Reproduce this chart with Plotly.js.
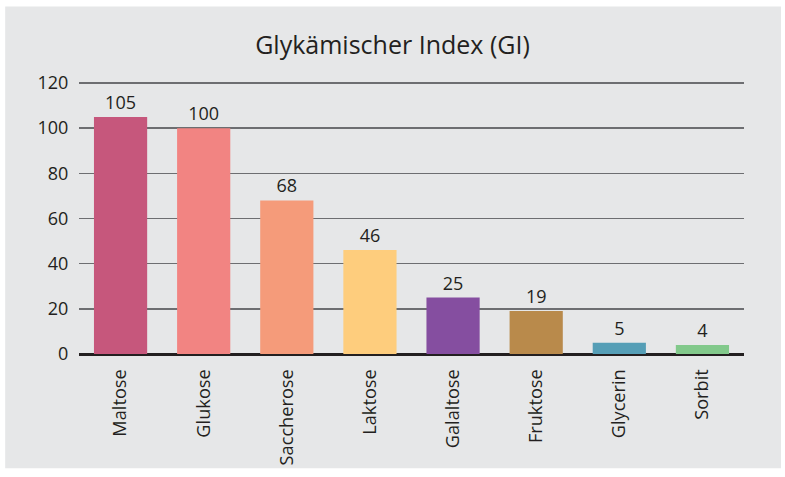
<!DOCTYPE html>
<html>
<head>
<meta charset="utf-8">
<script src="https://cdn.plot.ly/plotly-3.0.1.min.js"></script>
<style>html,body{margin:0;padding:0;background:#fff;}#chart{width:785px;height:477px;}</style>
</head>
<body>
<div id="chart"></div>
<script>
const categories = ["Maltose","Glukose","Saccherose","Laktose","Galaltose","Fruktose","Glycerin","Sorbit"];
const giValues = [105,100,68,46,25,19,5,4];
const barColors = ["#c6577c","#f28482","#f59b7a","#fecd7d","#854ea0","#b98a4b","#559eb6","#82c98b"];
const yTicks = [0,20,40,60,80,100,120];

const font = "Open Sans, Noto Sans, sans-serif";
const textColor = "#231f20";

const trace = {
  type: "bar",
  x: categories,
  y: giValues,
  marker: {color: barColors, line: {width: 0}},
  text: giValues.map(String),
  textposition: "outside",
  cliponaxis: false,
  textfont: {family: font, size: 18, color: textColor},
  hoverinfo: "none"
};

const layout = {
  width: 785, height: 477,
  margin: {l: 79, r: 41, t: 82, b: 123},
  paper_bgcolor: "#ffffff",
  plot_bgcolor: "rgba(0,0,0,0)",
  showlegend: false,
  bargap: 0.36,
  title: {text: "Glykämischer Index (GI)", x: 0.5, xanchor: "center", y: 0.906, yanchor: "middle", yref: "container",
          font: {family: font, size: 25, color: textColor}},
  xaxis: {
    type: "category",
    tickangle: -90,
    tickfont: {family: font, size: 18.2, color: textColor},
    ticks: "outside", ticklen: 7, tickcolor: "rgba(0,0,0,0)",
    showgrid: false, showline: false, zeroline: false
  },
  yaxis: {
    range: [0, 120.45],
    tickvals: yTicks,
    ticktext: yTicks.map(String),
    tickfont: {family: font, size: 18, color: textColor},
    ticks: "outside", ticklen: 6, tickcolor: "rgba(0,0,0,0)",
    showgrid: true, gridcolor: "#6d6e71", gridwidth: 1.5,
    zeroline: true, zerolinecolor: "#231f20", zerolinewidth: 3,
    showline: false
  },
  shapes: [{
    type: "rect", xref: "paper", yref: "paper", layer: "below",
    x0: -0.111, x1: 1.0556, y0: -0.42, y1: 1.278,
    fillcolor: "#e6e7e8", line: {width: 0}
  }]
};

Plotly.newPlot("chart", [trace], layout, {displayModeBar: false, staticPlot: true});
</script>
</body>
</html>
